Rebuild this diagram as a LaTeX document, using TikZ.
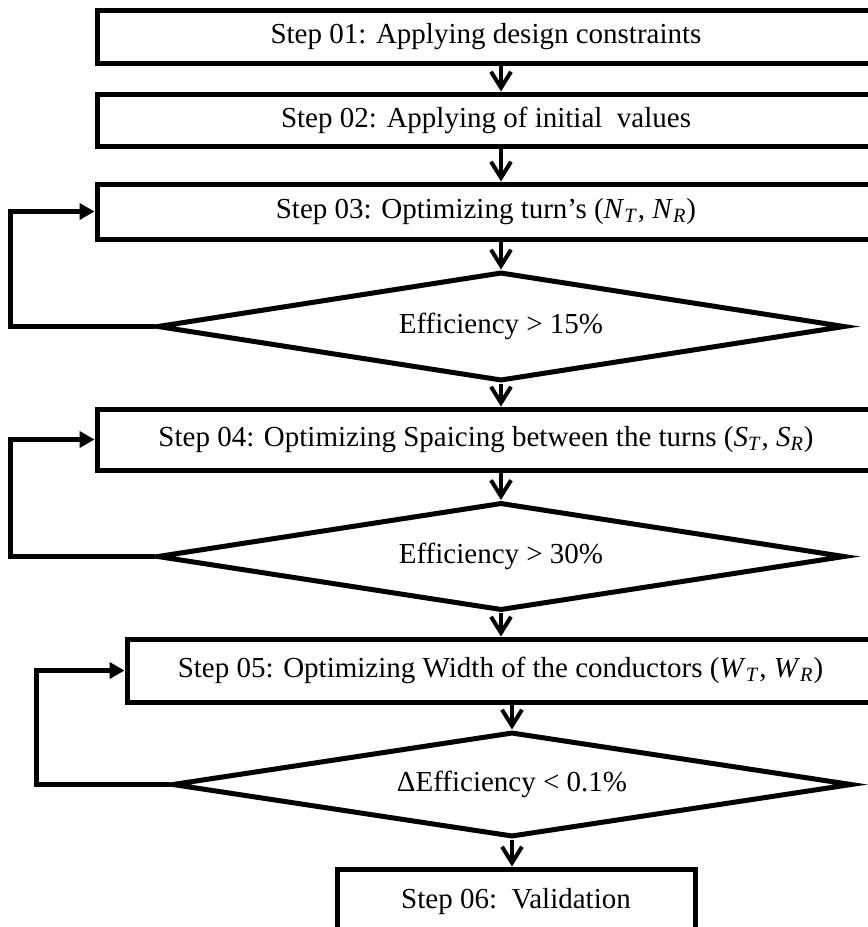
\documentclass[tikz,border=0pt]{standalone}
\usepackage{fontspec}
\setmainfont{Liberation Serif}
\usetikzlibrary{shapes.geometric,arrows.meta}

\tikzset{
  stepbox/.style={draw,rectangle,line width=2.5pt,inner sep=0pt,fill=white},
  testbox/.style={draw,diamond,line width=2.5pt,inner sep=0pt,aspect=6.3,fill=white},
  flow/.style={line width=2pt,-{Straight Barb[length=8pt,width=10pt,line width=2pt]}},
  back/.style={line width=2.5pt,-{Triangle[length=7.5pt,width=8pt]}}
}

\begin{document}
\begin{tikzpicture}[x=0.5pt,y=-0.5pt,font=\fontsize{14.5}{17}\selectfont]
    % Page frame (the boxes run off the right edge)
    \useasboundingbox (0,0) rectangle (868,927);
    \clip (0,0) rectangle (868,927);

    % The steps
    \node[stepbox,minimum width=389pt,minimum height=26.5pt] (s1) at (486,36.5) {Step 01: Applying design constraints};
    \node[stepbox,minimum width=389pt,minimum height=26pt] (s2) at (486,120) {Step 02: Applying of initial\ \ values};
    \node[stepbox,minimum width=389pt,minimum height=27.5pt] (s3) at (486,211.5) {Step 03: Optimizing turn’s (\textit{N}\textsubscript{\textit{T}}, \textit{N}\textsubscript{\textit{R}})};
    \node[stepbox,minimum width=389pt,minimum height=30.5pt] (s4) at (486,439.5) {Step 04: Optimizing Spaicing between the turns (\textit{S}\textsubscript{\textit{T}}, \textit{S}\textsubscript{\textit{R}})};
    \node[stepbox,minimum width=373.5pt,minimum height=31.5pt] (s5) at (500.5,670.5) {Step 05: Optimizing Width of the conductors (\textit{W}\textsubscript{\textit{T}}, \textit{W}\textsubscript{\textit{R}})};
    \node[stepbox,minimum width=179pt,minimum height=33pt] (s6) at (516,902) {Step 06:\ \ Validation};

    % The tests
    \node[testbox,minimum width=344pt,minimum height=54.5pt] (d1) at (501,326.5) {Efficiency > 15\%};
    \node[testbox,minimum width=344pt,minimum height=54pt] (d2) at (501,556.5) {Efficiency > 30\%};
    \node[testbox,minimum width=340pt,minimum height=52.5pt] (d3) at (512,784.5) {ΔEfficiency < 0.1\%};

    % Main flow
    \draw[flow] (s1.south -| d1.north) -- (s2.north -| d1.north);
    \draw[flow] (s2.south -| d1.north) -- (s3.north -| d1.north);
    \draw[flow] (s3.south -| d1.north) -- (d1.north);
    \draw[flow] (d1.south) -- (s4.north -| d1.south);
    \draw[flow] (s4.south -| d2.north) -- (d2.north);
    \draw[flow] (d2.south) -- (s5.north -| d2.south);
    \draw[flow] (s5.south -| d3.north) -- (d3.north);
    \draw[flow] (d3.south) -- (s6.north -| d3.south);

    % Loops back
    \draw[back] (d1.west) -- ++(-144,0) |- (s3.west);
    \draw[back] (d2.west) -- ++(-144,0) |- (s4.west);
    \draw[back] (d3.west) -- ++(-133,0) |- (s5.west);
\end{tikzpicture}
\end{document}
